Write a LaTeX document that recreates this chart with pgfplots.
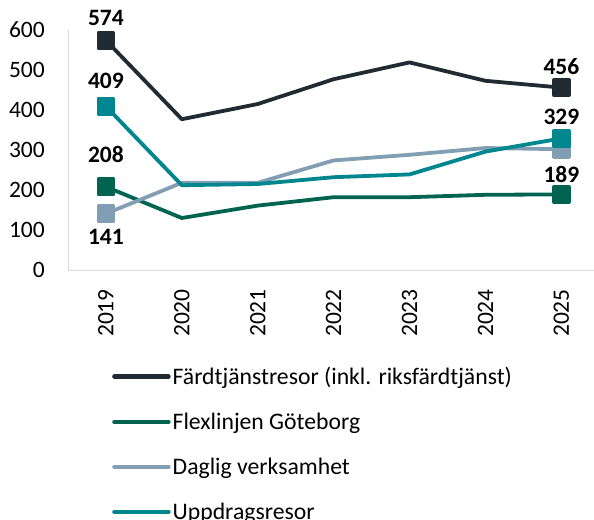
\documentclass[border=0pt]{standalone}
\usepackage{pgfplots}
\pgfplotsset{compat=1.18}
\usepackage{fontspec}
\setmainfont{Carlito}
\definecolor{cDark}{HTML}{212B33}
\definecolor{cFlex}{HTML}{006450}
\definecolor{cDag}{HTML}{819EB2}
\definecolor{cUpp}{HTML}{00868F}
\begin{document}
\begin{tikzpicture}
\useasboundingbox (-68bp,-250bp) rectangle (526bp,270bp);
\begin{axis}[
  at={(0,0)}, anchor=south west,
  scale only axis, width=526bp, height=240bp,
  xmin=-0.5, xmax=6.43, ymin=0, ymax=600,
  xtick={0,...,6}, xticklabels={2019,2020,2021,2022,2023,2024,2025},
  ytick={0,100,...,600},
  axis x line*=bottom, axis y line*=left,
  axis line style={draw=black!15, line width=0.8bp},
  x axis line style={-}, y axis line style={-},
  major tick length=0pt,
  tick label style={font=\fontsize{23.5bp}{27bp}\selectfont, text=black},
  /pgf/number format/assume math mode=true,
  xticklabel style={rotate=90, anchor=east, inner sep=0pt, xshift=-19bp},
  yticklabel style={anchor=east, inner sep=0pt, xshift=-23bp},
  clip=false,
  every axis plot/.append style={line width=3.8bp, line join=round},
  legend style={draw=none, fill=none, at={(44bp,-95bp)}, anchor=north west,
    font=\fontsize{23.7bp}{27bp}\selectfont, row sep=23bp, inner sep=0pt},
  legend cell align=left,
  legend image code/.code={\draw[#1, line width=4.5bp, line cap=round, mark=none] (0bp,0bp) -- (54bp,0bp);},
]
\addplot[cDark, mark=square*, mark size=7.5bp, mark indices={1,7}] coordinates {(0,574)(1,377)(2,415)(3,477)(4,519)(5,473)(6,456)};
\addlegendentry{Färdtjänstresor (inkl. riksfärdtjänst)}
\addplot[cFlex, mark=square*, mark size=7.5bp, mark indices={1,7}] coordinates {(0,208)(1,130)(2,161)(3,182)(4,182)(5,188)(6,189)};
\addlegendentry{Flexlinjen Göteborg}
\addplot[cDag, mark=square*, mark size=7.5bp, mark indices={1,7}] coordinates {(0,141)(1,218)(2,218)(3,274)(4,288)(5,305)(6,302)};
\addlegendentry{Daglig verksamhet}
\addplot[cUpp, mark=square*, mark size=7.5bp, mark indices={1,7}] coordinates {(0,409)(1,212)(2,215)(3,232)(4,239)(5,296)(6,329)};
\addlegendentry{Uppdragsresor}
\begin{scope}[every node/.style={font=\bfseries\fontsize{23.5bp}{27bp}\selectfont, inner sep=0pt}]
\node at (axis cs:0,574) [yshift=22bp] {574};
\node at (axis cs:0,409) [yshift=26bp] {409};
\node at (axis cs:0,208) [yshift=32bp] {208};
\node at (axis cs:0,141) [yshift=-23bp] {141};
\node at (axis cs:6,456) [yshift=21bp] {456};
\node at (axis cs:6,329) [yshift=22bp] {329};
\node at (axis cs:6,189) [yshift=20bp] {189};
\end{scope}
\end{axis}
\end{tikzpicture}
\end{document}
